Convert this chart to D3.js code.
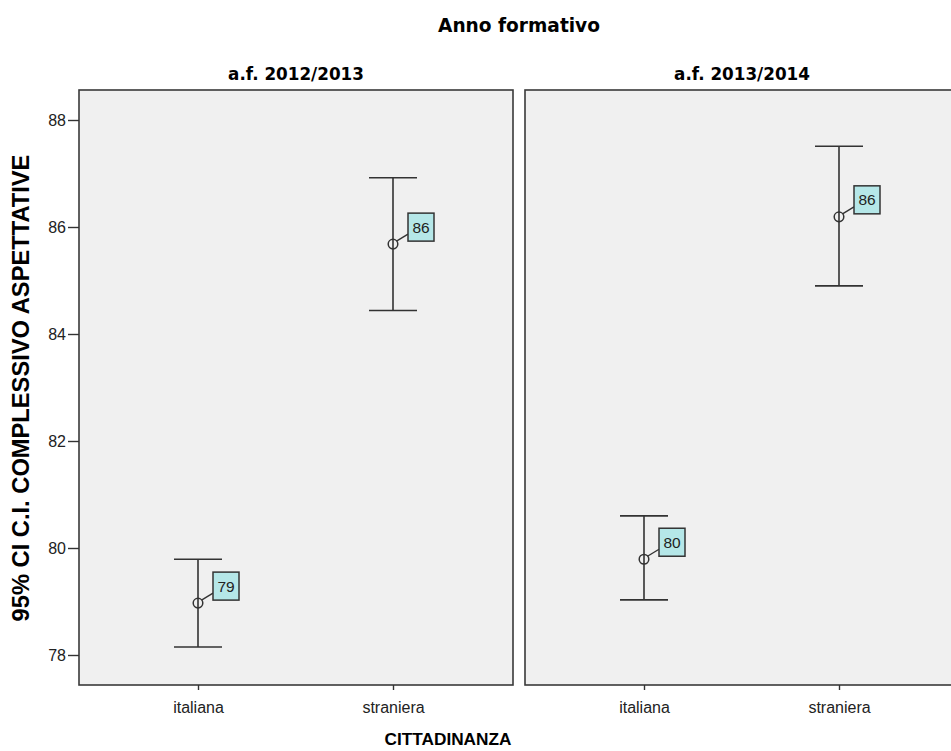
<!DOCTYPE html>
<html>
<head>
<meta charset="utf-8">
<script src="https://cdn.jsdelivr.net/npm/d3@7/dist/d3.min.js"></script>
<style>
  html, body { margin: 0; padding: 0; background: #fff; }
  svg { display: block; font-family: "Liberation Sans", Arial, sans-serif; }
</style>
</head>
<body>
<svg id="chart" width="951" height="751"></svg>
<script>
// ---- data ----
const panels = ["a.f. 2012/2013", "a.f. 2013/2014"];
const categories = ["italiana", "straniera"];
const means = [[78.97, 85.68], [79.79, 86.19]];
const lower = [[78.15, 84.44], [79.03, 84.90]];
const upper = [[79.79, 86.92], [80.60, 87.51]];
const yTicks = [78, 80, 82, 84, 86, 88];

const svg = d3.select("#chart");
const panelTop = 90, panelBottom = 685, panelW = 434;
const panelX = [79, 525];

const y = d3.scaleLinear().domain([78, 88]).range([655, 120]);

// scale a text's font so its width matches a target width
function fit(sel, target) {
  const fs = parseFloat(sel.attr("font-size"));
  const w = sel.node().getComputedTextLength();
  if (w > 0) sel.attr("font-size", (fs * target / w).toFixed(2));
  return sel;
}

const titleFont = "'DejaVu Sans', Verdana, sans-serif";

// overall title
fit(svg.append("text").attr("x", 519).attr("y", 32).attr("text-anchor", "middle")
  .attr("font-family", titleFont)
  .attr("font-size", 16).attr("font-weight", "bold").text("Anno formativo"), 162);

// y-axis title
fit(svg.append("text").attr("transform", "translate(29,388) rotate(-90)")
  .attr("text-anchor", "middle").attr("font-size", 16).attr("font-weight", "bold")
  .text("95% CI C.I. COMPLESSIVO ASPETTATIVE"), 467);

// x-axis title
fit(svg.append("text").attr("x", 448).attr("y", 745).attr("text-anchor", "middle")
  .attr("font-size", 15).attr("font-weight", "bold").text("CITTADINANZA"), 127);

panels.forEach((p, i) => {
  const x0 = panelX[i];
  const x = d3.scalePoint().domain(categories).range([x0 + 119, x0 + 314]);
  const g = svg.append("g");

  // panel title
  fit(svg.append("text").attr("x", x0 + panelW / 2).attr("y", 80).attr("text-anchor", "middle")
    .attr("font-family", titleFont)
    .attr("font-size", 15).attr("font-weight", "bold").text(p), 136);

  g.append("rect").attr("x", x0).attr("y", panelTop).attr("width", panelW)
    .attr("height", panelBottom - panelTop).attr("fill", "#f0f0f0")
    .attr("stroke", "#3a3a3a").attr("stroke-width", 1.6);

  // y axis only on first panel
  if (i === 0) {
    const ya = d3.axisLeft(y).tickValues(yTicks).tickSize(11).tickPadding(2).tickFormat(d3.format("d"));
    const ag = svg.append("g").attr("transform", `translate(${x0},0)`).call(ya);
    ag.select(".domain").remove();
    ag.selectAll("line").attr("stroke", "#333").attr("stroke-width", 1.4);
    ag.selectAll("text").attr("font-size", 16).attr("fill", "#222")
      .attr("font-family", "Liberation Sans, Arial, sans-serif");
  }

  // x axis
  const xa = d3.axisBottom(x).tickSize(5).tickPadding(12);
  const xg = svg.append("g").attr("transform", `translate(0,${panelBottom})`).call(xa);
  xg.select(".domain").remove();
  xg.selectAll("line").attr("stroke", "#333").attr("stroke-width", 1.4);
  xg.selectAll("text").attr("font-size", 16).attr("fill", "#222")
    .attr("font-family", "Liberation Sans, Arial, sans-serif");

  categories.forEach((c, j) => {
    const cx = x(c);
    const cy = y(means[i][j]);
    const yl = y(lower[i][j]), yu = y(upper[i][j]);
    const s = "#333";
    g.append("line").attr("x1", cx).attr("x2", cx).attr("y1", yu).attr("y2", yl)
      .attr("stroke", s).attr("stroke-width", 1.6);
    g.append("line").attr("x1", cx - 24).attr("x2", cx + 24).attr("y1", yu).attr("y2", yu)
      .attr("stroke", s).attr("stroke-width", 1.6);
    g.append("line").attr("x1", cx - 24).attr("x2", cx + 24).attr("y1", yl).attr("y2", yl)
      .attr("stroke", s).attr("stroke-width", 1.6);
    // connector
    g.append("line").attr("x1", cx + 3.5).attr("y1", cy - 3).attr("x2", cx + 15).attr("y2", cy - 10)
      .attr("stroke", s).attr("stroke-width", 1.4);
    g.append("circle").attr("cx", cx).attr("cy", cy).attr("r", 4.8)
      .attr("fill", "none").attr("stroke", s).attr("stroke-width", 1.5);
    // label box
    g.append("rect").attr("x", cx + 15).attr("y", cy - 31).attr("width", 26).attr("height", 28)
      .attr("fill", "#b5e7e8").attr("stroke", "#333").attr("stroke-width", 1.5);
    g.append("text").attr("x", cx + 28).attr("y", cy - 11.5).attr("text-anchor", "middle")
      .attr("font-size", 15.5).attr("fill", "#222").text(d3.format(".0f")(means[i][j]));
  });
});
</script>
</body>
</html>
